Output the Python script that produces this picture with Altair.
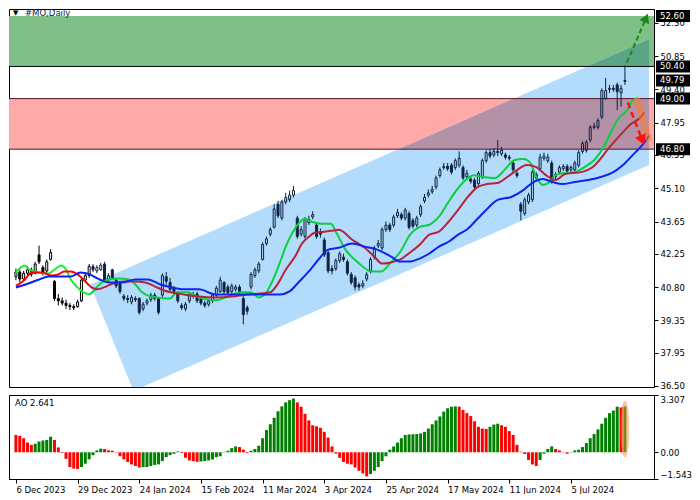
import altair as alt
import numpy as np
import pandas as pd

# ---------------- data ----------------
opens = [41.25, 41.45, 41.15, 41.40, 41.55, 41.40, 42.20, 41.65, 41.50, 42.00,
         41.05, 40.30, 40.20, 40.10, 40.00, 39.95, 39.95, 40.20, 41.10, 41.30,
         41.70, 41.50, 41.55, 41.80, 41.10, 41.55, 41.10, 40.95, 40.40, 40.30,
         40.15, 40.30, 40.30, 39.85, 40.10, 40.25, 40.45, 40.30, 40.45, 41.25,
         41.00, 40.75, 40.50, 40.00, 39.85, 40.20, 40.40, 40.50, 40.30, 40.10,
         40.05, 40.20, 40.45, 40.60, 41.00, 40.80, 40.60, 40.70, 40.80, 40.30,
         39.90, 40.80, 41.30, 41.50, 42.00, 42.70, 43.10, 43.40, 44.40, 43.80,
         44.50, 44.60, 44.80, 43.80, 43.10, 43.00, 43.60, 43.85, 43.50, 43.20,
         42.85, 42.30, 41.60, 41.60, 41.95, 42.10, 41.90, 41.35, 41.20, 40.90,
         40.85, 41.15, 41.50, 42.10, 42.60, 42.50, 43.30, 43.50, 43.50, 43.90,
         43.95, 43.80, 44.00, 43.70, 43.50, 43.95, 44.55, 44.80, 44.95, 45.15,
         45.65, 46.00, 46.05, 46.10, 46.00, 46.10, 46.00, 45.60, 45.50, 45.45,
         45.30, 45.60, 46.30, 46.65, 46.55, 46.70, 46.60, 46.55, 46.45, 46.20,
         45.75, 44.40, 44.00, 44.50, 44.60, 45.70, 45.95, 46.40, 46.30, 46.20,
         45.60, 45.80, 45.95, 46.05, 45.90, 45.90, 46.10, 46.70, 46.75, 47.20,
         47.75, 47.75, 48.20, 49.00, 49.40, 49.45, 49.60, 49.25, 49.75]
closes = [41.45, 41.15, 41.40, 41.55, 41.35, 41.80, 41.90, 41.40, 41.90, 42.30,
          40.30, 40.20, 40.10, 40.00, 39.95, 39.90, 40.15, 41.10, 41.30, 41.70,
          41.55, 41.65, 41.75, 41.10, 41.30, 41.20, 40.85, 40.60, 40.30, 40.25,
          40.35, 40.25, 39.70, 40.05, 40.20, 40.45, 40.30, 39.70, 41.30, 41.05,
          40.70, 40.60, 40.20, 39.90, 40.05, 40.50, 40.45, 40.20, 40.10, 40.00,
          40.20, 40.45, 40.75, 41.10, 40.60, 40.55, 40.85, 40.80, 40.60, 39.60,
          39.75, 41.35, 41.55, 41.80, 42.65, 42.90, 43.30, 44.20, 43.90, 44.50,
          44.70, 44.80, 45.00, 43.00, 43.30, 43.75, 43.75, 43.95, 43.00, 43.10,
          42.20, 41.50, 41.50, 41.95, 42.25, 42.00, 41.40, 41.00, 40.80, 40.80,
          40.95, 41.35, 42.00, 42.50, 42.70, 43.30, 43.50, 43.30, 43.85, 44.05,
          43.80, 44.15, 43.40, 43.45, 43.80, 44.30, 44.70, 44.90, 45.05, 45.55,
          45.90, 46.05, 45.95, 45.80, 46.30, 46.40, 45.55, 45.75, 45.40, 45.15,
          45.75, 46.30, 46.65, 46.50, 46.70, 46.65, 46.75, 46.45, 46.40, 45.90,
          45.65, 44.10, 44.60, 44.80, 45.80, 45.55, 46.45, 46.50, 46.45, 45.40,
          45.70, 46.00, 46.05, 45.85, 46.00, 46.20, 46.65, 47.05, 47.10, 47.75,
          47.80, 48.05, 49.35, 49.35, 49.45, 49.40, 49.30, 49.45, 49.79]
highs = [41.60, 41.55, 41.50, 41.70, 41.65, 41.90, 42.60, 41.75, 42.00, 42.45,
         41.10, 40.50, 40.35, 40.25, 40.10, 40.05, 40.25, 41.20, 41.40, 41.80,
         41.80, 41.75, 41.85, 41.90, 41.40, 41.60, 41.20, 41.00, 40.50, 40.45,
         40.45, 40.40, 40.35, 40.15, 40.30, 40.55, 40.55, 40.35, 41.40, 41.45,
         41.20, 40.85, 40.60, 40.10, 40.15, 40.60, 40.60, 40.60, 40.40, 40.20,
         40.30, 40.55, 40.85, 41.25, 41.05, 40.90, 40.95, 40.90, 40.90, 40.40,
         40.00, 41.45, 41.65, 41.90, 42.75, 43.00, 43.40, 44.40, 44.55, 44.60,
         44.90, 45.00, 45.20, 43.90, 43.45, 43.85, 43.90, 44.10, 43.60, 43.35,
         42.95, 42.40, 41.75, 42.05, 42.35, 42.25, 42.00, 41.45, 41.30, 41.00,
         41.10, 41.45, 42.10, 42.60, 42.85, 43.40, 43.65, 43.60, 43.95, 44.20,
         44.05, 44.25, 44.10, 43.80, 43.90, 44.40, 44.85, 45.05, 45.20, 45.65,
         46.00, 46.20, 46.20, 46.20, 46.40, 46.70, 46.10, 45.90, 45.60, 45.55,
         45.85, 46.40, 46.75, 46.80, 46.85, 47.20, 46.90, 46.65, 46.55, 46.30,
         45.85, 44.50, 44.70, 44.90, 45.90, 45.80, 46.60, 46.65, 46.60, 46.30,
         45.80, 46.10, 46.15, 46.15, 46.10, 46.30, 46.75, 47.15, 47.20, 47.85,
         47.95, 48.15, 49.45, 49.90, 49.60, 49.60, 49.70, 49.60, 50.45]
lows = [41.10, 41.00, 41.05, 41.30, 41.25, 41.35, 41.80, 41.30, 41.40, 41.95,
        40.20, 40.00, 40.00, 39.85, 39.80, 39.80, 39.90, 40.15, 41.00, 41.20,
        41.45, 41.40, 41.50, 41.00, 41.00, 41.10, 40.75, 40.50, 40.20, 40.10,
        40.05, 40.15, 39.60, 39.75, 40.00, 40.15, 40.20, 39.60, 40.35, 40.90,
        40.60, 40.45, 40.10, 39.80, 39.75, 40.10, 40.30, 40.10, 40.00, 39.90,
        39.95, 40.10, 40.35, 40.55, 40.50, 40.45, 40.50, 40.60, 40.50, 39.18,
        39.60, 40.70, 41.20, 41.40, 41.95, 42.60, 43.00, 43.35, 43.80, 43.70,
        44.40, 44.50, 44.70, 42.90, 43.00, 42.90, 43.50, 43.75, 42.90, 42.95,
        42.10, 41.40, 41.35, 41.50, 41.85, 41.90, 41.30, 40.90, 40.65, 40.65,
        40.75, 41.05, 41.40, 42.00, 42.50, 42.40, 43.20, 43.20, 43.40, 43.80,
        43.70, 43.70, 43.30, 43.35, 43.40, 43.85, 44.45, 44.70, 44.85, 45.05,
        45.55, 45.90, 45.85, 45.70, 45.90, 46.00, 45.45, 45.50, 45.30, 45.05,
        45.20, 45.50, 46.20, 46.40, 46.45, 46.50, 46.50, 46.35, 46.30, 45.80,
        45.55, 43.70, 43.90, 44.40, 44.50, 45.40, 45.85, 46.30, 46.20, 45.30,
        45.50, 45.70, 45.85, 45.75, 45.80, 45.80, 46.00, 46.60, 46.65, 47.10,
        47.65, 47.65, 48.10, 48.95, 49.25, 49.30, 48.50, 48.65, 49.60]

# Alligator-style lines, values read at bar positions
green_i = [0, 2.25, 3.5, 6, 8.5, 10, 11.75, 13, 14.25, 16, 17.5, 19.25, 20.5, 22.25, 24.25, 26.75,
           29.25, 31, 32.5, 35, 36.75, 38.5, 40, 41.75, 44.25, 47.5, 51.75, 55, 58.5, 61, 63, 65,
           66.75, 68.5, 70, 71.75, 73.5, 75, 76.75, 79.25, 81.75, 83, 85.5, 88.75, 92.25, 94.75,
           97.25, 99.75, 102.25, 104.75, 107.25, 109.75, 112.25, 114.75, 117.25, 118.75, 121.25,
           124.25, 126.75, 129.25, 131.75, 133.5, 135, 136.75, 138.5, 140, 142.5, 145, 147.5, 150,
           152.5, 154.25, 156, 158.5, 160, 161.25]
green_v = [41.43, 41.74, 41.56, 41.43, 41.39, 41.56, 41.74, 41.56, 41.13, 40.78, 40.57, 40.48, 40.70,
           41.00, 41.13, 41.17, 41.13, 40.91, 40.61, 40.39, 40.35, 40.31, 40.30, 40.57, 40.57, 40.35,
           40.22, 40.39, 40.57, 40.57, 40.35, 40.57, 41.13, 41.87, 42.56, 43.16, 43.60, 43.77, 43.64,
           43.55, 43.55, 43.21, 42.43, 41.87, 41.48, 41.48, 41.87, 42.34, 43.08, 43.42, 43.51, 43.86,
           44.51, 45.11, 45.54, 45.67, 45.59, 45.54, 45.89, 46.32, 46.37, 46.19, 45.59, 45.24, 45.37,
           45.67, 45.76, 45.80, 46.02, 46.32, 46.89, 47.49, 48.06, 48.49, 48.92, 49.01]
red_i = [0, 1.75, 4.25, 6.75, 9.25, 11, 12.5, 14.25, 16, 17.5, 19.25, 21, 23.5, 26, 28.5, 31, 33.5,
         36, 38.5, 43.5, 47.5, 51.75, 56, 60, 63.5, 66, 67.5, 70, 72.5, 74.25, 76, 77.5, 80, 81.75,
         83.75, 87.25, 90.5, 93, 95, 97.25, 99.75, 102.25, 104.75, 107.25, 109.75, 112.25, 114.75,
         117.25, 119.75, 122.25, 125, 127.5, 130, 132.5, 135, 137.5, 140, 142.5, 146.75, 149.5,
         154.25, 157.5, 159.25, 162.5, 163]
red_v = [40.85, 41.04, 41.43, 41.43, 41.30, 41.35, 41.48, 41.48, 41.35, 41.13, 40.83, 40.70, 40.83,
         41.00, 41.04, 41.04, 41.00, 40.83, 40.65, 40.48, 40.39, 40.35, 40.39, 40.48, 40.52, 40.57,
         40.83, 41.55, 42.15, 42.70, 42.99, 43.16, 43.21, 43.25, 43.29, 42.86, 42.51, 42.12, 41.82,
         41.87, 42.00, 42.30, 42.64, 43.08, 43.21, 43.64, 44.16, 44.72, 45.15, 45.28, 45.33, 45.59,
         45.89, 46.11, 46.02, 45.67, 45.46, 45.72, 45.80, 46.00, 46.93, 47.54, 47.85, 48.27, 48.40]
blue_i = [0, 2.5, 6, 8.5, 11.75, 14.25, 16.75, 19.25, 21.75, 24.25, 27.5, 31, 34.25, 37.5, 40.5, 43.5,
          47.5, 51.75, 56, 60, 64.25, 68.5, 71, 73.5, 76, 78.5, 81, 83.75, 87.25, 90.5, 93.75, 97.25,
          99.75, 102.25, 104.75, 107.25, 109.75, 112.25, 114.75, 117.25, 119.75, 122.25, 125, 128.5,
          131.75, 134.25, 136.75, 139.25, 141.75, 145, 148.5, 151.75, 155, 157.5, 160, 161.75, 163.5,
          164.25]
blue_v = [40.78, 40.91, 41.13, 41.26, 41.26, 41.26, 41.43, 41.35, 41.13, 41.00, 41.00, 41.13, 41.13,
          40.91, 40.78, 40.70, 40.70, 40.48, 40.48, 40.48, 40.48, 40.48, 40.61, 41.04, 41.48, 42.00,
          42.43, 42.51, 42.69, 42.56, 42.43, 42.13, 41.91, 41.91, 42.04, 42.26, 42.56, 42.77, 43.08,
          43.34, 43.77, 44.20, 44.59, 44.72, 45.03, 45.37, 45.50, 45.37, 45.28, 45.37, 45.46, 45.59,
          45.80, 46.11, 46.54, 46.84, 47.19, 47.40]

# Awesome Oscillator histogram
ao_values = [1.00, 0.94, 0.81, 0.56, 0.43, 0.49, 0.62, 0.68, 0.71, 0.90,
             0.71, 0.28, -0.04, -0.38, -0.85, -0.94, -0.96, -0.85, -0.66, -0.41,
             -0.17, 0.11, 0.21, 0.19, 0.11, 0.09, -0.02, -0.23, -0.41, -0.56,
             -0.70, -0.79, -0.88, -0.86, -0.85, -0.79, -0.73, -0.70, -0.51, -0.28,
             -0.17, -0.09, 0.05, -0.04, -0.32, -0.47, -0.51, -0.55, -0.53, -0.51,
             -0.47, -0.41, -0.28, -0.23, 0.02, 0.09, 0.24, 0.34, 0.30, 0.15,
             -0.04, 0.09, 0.19, 0.38, 0.81, 1.28, 1.62, 1.99, 2.37, 2.65,
             2.88, 3.01, 3.10, 2.88, 2.63, 2.22, 1.84, 1.56, 1.50, 1.41,
             1.18, 0.85, 0.34, -0.08, -0.32, -0.56, -0.66, -0.70, -0.88, -1.07,
             -1.22, -1.39, -1.26, -1.07, -0.85, -0.51, -0.23, 0.15, 0.34, 0.56,
             0.81, 1.00, 1.03, 1.04, 1.05, 1.09, 1.18, 1.37, 1.62, 1.84,
             2.07, 2.35, 2.54, 2.63, 2.65, 2.63, 2.44, 2.26, 2.09, 1.79,
             1.47, 1.37, 1.35, 1.47, 1.60, 1.65, 1.56, 1.47, 1.22, 1.00,
             0.43, 0.03, -0.10, -0.45, -0.70, -0.79, -0.45, -0.08, 0.19, 0.34,
             0.19, 0.11, 0.02, -0.08, 0.02, 0.11, 0.15, 0.30, 0.53, 0.81,
             1.05, 1.32, 1.65, 1.99, 2.26, 2.41, 2.63, 2.59, 2.641]

# channel (parallelogram) anchors: bar index, upper and lower price
channel_i = [19.25, 30.5, 164.25]
channel_top = [40.91, 41.74, 51.58]
channel_bot = [40.91, 36.28, 46.11]

zone_lo = [50.40, 46.80]
zone_hi = [52.60, 49.00]
level_labels = [52.60, 50.40, 49.79, 49.00, 46.80]
price_ticks = [52.30, 50.85, 49.40, 47.95, 46.55, 45.10, 43.65, 42.25, 40.80, 39.35, 37.95, 36.50]
ao_ticks = [3.307, 0.0, -1.543]

green_arrow_i = [158.5, 163.5]
green_arrow_v = [50.57, 52.51]
red_arrow_i = [158.75, 162.5]
red_arrow_v = [48.83, 47.19]
orange_i = [161.25, 164.0]
orange_v = [48.92, 47.28]
ao_mark_i = [158]
ao_mark_v = [1.35]

date_labels = ["6 Dec 2023", "29 Dec 2023", "24 Jan 2024", "15 Feb 2024", "11 Mar 2024",
               "3 Apr 2024", "25 Apr 2024", "17 May 2024", "11 Jun 2024", "5 Jul 2024"]
date_bars = [0, 16, 32, 48, 64, 80, 96, 112, 128, 144]
title_text = "#MO,Daily"

# ---------------- layout / style ----------------
W = 645
H_MAIN = 378
H_AO = 84
X_DOMAIN = [-0.5, 164.25]
Y_DOMAIN = [36.45, 52.90]
AO_DOMAIN = [-1.543, 3.307]
FONT = "DejaVu Sans"
FS = 8.5
BOX_H = 12  # px height of the price boxes on the axis
CHANNEL = (179, 220, 252)
ZONE_RGB = [(128, 191, 136), (255, 169, 169)]


def hexc(rgb):
    return "#%02x%02x%02x" % tuple(int(round(c)) for c in rgb)


def multiply(a, b):
    return tuple(x * y / 255.0 for x, y in zip(a, b))


xs = alt.Scale(domain=X_DOMAIN, nice=False, zero=False)
ys = alt.Scale(domain=Y_DOMAIN, nice=False, zero=False)
aos = alt.Scale(domain=AO_DOMAIN, nice=False, zero=False)

y_axis = alt.Axis(orient="right", values=price_ticks, format=".2f", title=None, tickSize=4,
                  labelPadding=2, grid=False, labelFlush=False)


def X(f):
    return alt.X(f"{f}:Q", scale=xs, axis=None)


def Y(f):
    return alt.Y(f"{f}:Q", scale=ys, axis=y_axis)


apex = channel_i[0]
n = len(closes)
cdf = pd.DataFrame({"i": list(range(n)), "open": opens, "close": closes, "high": highs, "low": lows})
cdf["btop"] = cdf[["open", "close"]].max(axis=1)
cdf["bbot"] = cdf[["open", "close"]].min(axis=1)
cdf["ink"] = ["#000000" if k < apex else "#0c2340" for k in range(n)]
cdf["fill"] = ["transparent" if c >= o else ink for o, c, ink in zip(opens, closes, cdf["ink"])]

# zones
zdf = pd.DataFrame({"lo": zone_lo, "hi": zone_hi, "fill": [hexc(c) for c in ZONE_RGB]})
zones = alt.Chart(zdf).mark_rect().encode(
    x=alt.value(0), x2=alt.value(W), y=Y("lo"), y2=alt.Y2("hi"),
    color=alt.Color("fill:N", scale=None))

# channel
chdf = pd.DataFrame({"i": channel_i, "top": channel_top, "bot": channel_bot})
channel = alt.Chart(chdf).mark_area(color=hexc(CHANNEL), clip=True, orient="vertical").encode(
    x=X("i"), y=Y("top"), y2=alt.Y2("bot"))

# overlap of channel and each zone, coloured like a multiply blend
ci = np.array(channel_i, dtype=float)
ct = np.array(channel_top, dtype=float)
cb = np.array(channel_bot, dtype=float)
ov_layers = []
for lo, hi, zc in zip(zone_lo, zone_hi, ZONE_RGB):
    pts = set(ci.tolist())
    for arr in (ct, cb):
        for k in range(len(ci) - 1):
            for level in (lo, hi):
                a, b = arr[k], arr[k + 1]
                if (a - level) * (b - level) < 0:
                    pts.add(ci[k] + (level - a) / (b - a) * (ci[k + 1] - ci[k]))
    px = np.array(sorted(pts))
    top = np.minimum(np.interp(px, ci, ct), hi)
    bot = np.maximum(np.interp(px, ci, cb), lo)
    top = np.maximum(top, bot)
    odf = pd.DataFrame({"i": px, "top": top, "bot": bot})
    ov_layers.append(alt.Chart(odf).mark_area(color=hexc(multiply(zc, CHANNEL)), clip=True,
                                              orient="vertical").encode(
        x=X("i"), y=Y("top"), y2=alt.Y2("bot")))

bdf = pd.DataFrame({"v": [zone_lo[0], zone_hi[1], zone_lo[1]],
                    "c": ["#000000", "#5a1020", "#5a1020"]})
borders = alt.Chart(bdf).mark_rule(strokeWidth=1).encode(
    x=alt.value(0), x2=alt.value(W), y=Y("v"), color=alt.Color("c:N", scale=None))

# candles
up_wick = alt.Chart(cdf).mark_rule(strokeWidth=1).encode(
    x=X("i"), y=Y("btop"), y2=alt.Y2("high"), color=alt.Color("ink:N", scale=None))
dn_wick = alt.Chart(cdf).mark_rule(strokeWidth=1).encode(
    x=X("i"), y=Y("low"), y2=alt.Y2("bbot"), color=alt.Color("ink:N", scale=None))
bodies = alt.Chart(cdf).mark_bar(size=2, strokeWidth=1).encode(
    x=X("i"), y=Y("open"), y2=alt.Y2("close"), fill=alt.Fill("fill:N", scale=None),
    stroke=alt.Stroke("ink:N", scale=None))


def ma_line(ii, vv, col_out, col_in):
    s = next(k for k, v in enumerate(ii) if v >= apex)
    out = pd.DataFrame({"i": ii[:s + 1], "v": vv[:s + 1]})
    inn = pd.DataFrame({"i": ii[s:], "v": vv[s:]})
    a = alt.Chart(out).mark_line(color=col_out, strokeWidth=2, interpolate="monotone", clip=True).encode(
        x=X("i"), y=Y("v"))
    b = alt.Chart(inn).mark_line(color=col_in, strokeWidth=2, interpolate="monotone", clip=True).encode(
        x=X("i"), y=Y("v"))
    return [a, b]


lines = (ma_line(green_i, green_v, "#1eeb3c", "#0ccf40")
         + ma_line(red_i, red_v, "#ff0000", "#b3263a")
         + ma_line(blue_i, blue_v, "#0a1cff", "#0a24f2"))

orange = alt.Chart(pd.DataFrame({"i": orange_i, "v": orange_v})).mark_line(
    color="#ff7a2a", strokeWidth=7, opacity=0.55, strokeCap="round", clip=True).encode(x=X("i"), y=Y("v"))

ga = pd.DataFrame({"i": green_arrow_i, "v": green_arrow_v})
g_arrow = alt.Chart(ga).mark_line(color="#1a8a1a", strokeWidth=2, strokeDash=[5, 3]).encode(
    x=X("i"), y=Y("v"))
g_head = alt.Chart(ga.tail(1)).mark_point(shape="triangle-up", filled=True, size=110, angle=24,
                                          color="#1a8a1a", opacity=1).encode(x=X("i"), y=Y("v"))
ra = pd.DataFrame({"i": red_arrow_i, "v": red_arrow_v})
r_arrow = alt.Chart(ra).mark_line(color="#ff1010", strokeWidth=2.5, strokeDash=[6, 4]).encode(
    x=X("i"), y=Y("v"))
r_head = alt.Chart(ra.tail(1)).mark_point(shape="triangle-up", filled=True, size=140, angle=158,
                                          color="#ff1010", opacity=1).encode(x=X("i"), y=Y("v"))

# price boxes on the right axis (half box height converted to price units)
half = (BOX_H / 2) * (Y_DOMAIN[1] - Y_DOMAIN[0]) / H_MAIN
ldf = pd.DataFrame({"v": level_labels, "t": [f"{v:.2f}" for v in level_labels]})
ldf["b0"] = ldf["v"] - half
ldf["b1"] = ldf["v"] + half
lbox = alt.Chart(ldf).mark_rect(color="#000000").encode(
    x=alt.value(W + 2), x2=alt.value(W + 36), y=Y("b0"), y2=alt.Y2("b1"))
ltxt = alt.Chart(ldf).mark_text(align="left", baseline="middle", color="#ffffff", font=FONT,
                                fontSize=FS).encode(x=alt.value(W + 6), y=Y("v"), text="t:N")

tdf = pd.DataFrame({"t": [title_text]})
tri = alt.Chart(tdf).mark_text(text="\u25bc", align="left", baseline="middle", fontSize=7,
                               color="#000000", font=FONT).encode(x=alt.value(4), y=alt.value(4))
ttl = alt.Chart(tdf).mark_text(align="left", baseline="middle", fontSize=FS, color="#0b1a4a",
                               font=FONT).encode(x=alt.value(16), y=alt.value(4), text="t:N")

main = alt.layer(zones, channel, *ov_layers, borders, up_wick, dn_wick, bodies, *lines,
                 orange, g_arrow, r_arrow, g_head, r_head, lbox, ltxt, tri, ttl).properties(
    width=W, height=H_MAIN)

# ---------------- AO panel ----------------
ao_cols = ["#ff0000"] + ["#008000" if ao_values[k] > ao_values[k - 1] else "#ff0000"
                         for k in range(1, len(ao_values))]
aodf = pd.DataFrame({"i": list(range(len(ao_values))), "ao": ao_values, "zero": 0.0, "c": ao_cols})

date_expr = "[" + ",".join(f"'{d}'" for d in date_labels) + "][indexof([" + \
    ",".join(str(b) for b in date_bars) + "], datum.value)]"
x_ao_axis = alt.Axis(values=date_bars, labelExpr=date_expr, labelAlign="left", labelFlush=False,
                     labelOverlap=False, tickSize=4, labelPadding=2, title=None, grid=False)
ao_axis = alt.Axis(orient="right", values=ao_ticks,
                   labelExpr="datum.value == 0 ? '0.00' : format(datum.value, '.3f')",
                   labelFlush=True, tickSize=4, labelPadding=2, title=None, grid=False)

ao_bars = alt.Chart(aodf).mark_bar(size=3).encode(
    x=alt.X("i:Q", scale=xs, axis=x_ao_axis),
    y=alt.Y("ao:Q", scale=aos, axis=ao_axis), y2=alt.Y2("zero"),
    color=alt.Color("c:N", scale=None))

ELL = "M0,-1C0.2,-1 0.2,1 0,1C-0.2,1 -0.2,-1 0,-1Z"
ao_mark = alt.Chart(pd.DataFrame({"i": ao_mark_i, "v": ao_mark_v})).mark_point(
    shape=ELL, size=3249, filled=True, color="#ff8a3d", opacity=0.5, strokeWidth=0).encode(
    x=alt.X("i:Q", scale=xs, axis=x_ao_axis), y=alt.Y("v:Q", scale=aos, axis=ao_axis))

ao_txt = alt.Chart(pd.DataFrame({"t": [f"AO {ao_values[-1]:.3f}"]})).mark_text(
    align="left", baseline="top", fontSize=FS, color="#000000", font=FONT).encode(
    x=alt.value(6), y=alt.value(4), text="t:N")

ao = alt.layer(ao_bars, ao_mark, ao_txt).properties(width=W, height=H_AO)

chart = alt.vconcat(main, ao, spacing=3).properties(
    padding={"left": 0, "top": 0, "right": 0, "bottom": 0}, background="white"
).configure_view(stroke="#000000", strokeWidth=1).configure_axis(
    labelFont=FONT, labelFontSize=FS, labelColor="#000000", domainColor="#000000",
    tickColor="#000000", domainWidth=1, tickWidth=1)

chart.save("out.html", embed_options={"renderer": "svg", "actions": False})
